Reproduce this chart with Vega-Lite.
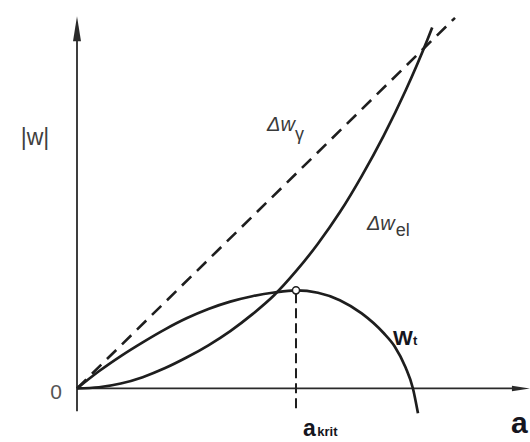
{
  "$schema": "https://vega.github.io/schema/vega-lite/v6.json",
  "width": 530,
  "height": 442,
  "padding": 0,
  "autosize": {"type": "fit", "contains": "padding"},
  "background": "white",
  "config": {"view": {"stroke": null}},
  "datasets": {
    "curves": [
      {"series": "gamma", "a": 0, "w": 0},
      {"series": "gamma", "a": 1.726, "w": 3.778},

      {"series": "el", "a": 0, "w": 0},
      {"series": "el", "a": 0.1, "w": 0.012},
      {"series": "el", "a": 0.2, "w": 0.05},
      {"series": "el", "a": 0.3, "w": 0.115},
      {"series": "el", "a": 0.4, "w": 0.205},
      {"series": "el", "a": 0.5, "w": 0.315},
      {"series": "el", "a": 0.6, "w": 0.44},
      {"series": "el", "a": 0.7, "w": 0.585},
      {"series": "el", "a": 0.8, "w": 0.755},
      {"series": "el", "a": 0.9, "w": 0.95},
      {"series": "el", "a": 1.0, "w": 1.195},
      {"series": "el", "a": 1.1, "w": 1.475},
      {"series": "el", "a": 1.2, "w": 1.795},
      {"series": "el", "a": 1.3, "w": 2.165},
      {"series": "el", "a": 1.4, "w": 2.575},
      {"series": "el", "a": 1.5, "w": 3.035},
      {"series": "el", "a": 1.6, "w": 3.555},
      {"series": "el", "a": 1.622, "w": 3.68},

      {"series": "wt", "a": 0, "w": 0},
      {"series": "wt", "a": 0.1, "w": 0.175},
      {"series": "wt", "a": 0.2, "w": 0.33},
      {"series": "wt", "a": 0.3, "w": 0.47},
      {"series": "wt", "a": 0.4, "w": 0.6},
      {"series": "wt", "a": 0.5, "w": 0.715},
      {"series": "wt", "a": 0.6, "w": 0.81},
      {"series": "wt", "a": 0.7, "w": 0.885},
      {"series": "wt", "a": 0.8, "w": 0.94},
      {"series": "wt", "a": 0.9, "w": 0.978},
      {"series": "wt", "a": 1.0, "w": 1.0},
      {"series": "wt", "a": 1.1, "w": 0.975},
      {"series": "wt", "a": 1.2, "w": 0.9},
      {"series": "wt", "a": 1.3, "w": 0.765},
      {"series": "wt", "a": 1.4, "w": 0.565},
      {"series": "wt", "a": 1.45, "w": 0.43},
      {"series": "wt", "a": 1.5, "w": 0.215},
      {"series": "wt", "a": 1.534, "w": 0},
      {"series": "wt", "a": 1.557, "w": -0.253}
    ],
    "axes": [
      {"axis": "x", "a": 0, "w": 0},
      {"axis": "x", "a": 2.0, "w": 0},
      {"axis": "y", "a": 0, "w": -0.232},
      {"axis": "y", "a": 0, "w": 3.6}
    ],
    "arrowUp": [{"a": 0, "w": 3.666}],
    "arrowRight": [{"a": 2.027, "w": 0}],
    "critical": [
      {"a": 1.0, "w": 0.97},
      {"a": 1.0, "w": -0.232}
    ],
    "peak": [{"a": 1.0, "w": 1.0}],
    "ordinateName": [{"text": "|w|", "a": -0.192, "w": 2.55}],
    "deltaLabels": [
      {"text": "Δw", "a": 0.868, "w": 2.626},
      {"text": "Δw", "a": 1.324, "w": 1.616}
    ],
    "origin": [{"text": "0", "a": -0.096, "w": -0.111}],
    "deltaSubs": [
      {"text": "γ", "a": 0.995, "w": 2.53},
      {"text": "el", "a": 1.455, "w": 1.556}
    ],
    "workLabel": [{"text": "W", "a": 1.443, "w": 0.444}],
    "critLabel": [{"text": "a", "a": 1.032, "w": -0.485}],
    "boldSubs": [
      {"text": "t", "a": 1.534, "w": 0.444},
      {"text": "krit", "a": 1.097, "w": -0.485}
    ],
    "axisName": [{"text": "a", "a": 1.982, "w": -0.455}]
  },
  "encoding": {
    "x": {"field": "a", "type": "quantitative", "scale": {"domain": [-0.3516, 2.0685], "nice": false, "zero": false}, "axis": null},
    "y": {"field": "w", "type": "quantitative", "scale": {"domain": [-0.505, 3.9596], "nice": false, "zero": false}, "axis": null}
  },
  "layer": [
    {
      "data": {"name": "axes"},
      "mark": {"type": "line", "color": "#2a2a2a", "strokeWidth": 1.8},
      "encoding": {"detail": {"field": "axis"}}
    },
    {
      "data": {"name": "arrowUp"},
      "mark": {"type": "point", "shape": "M0,-1L0.32,1L-0.32,1Z", "size": 625, "filled": true, "color": "#2a2a2a", "opacity": 1}
    },
    {
      "data": {"name": "arrowRight"},
      "mark": {"type": "point", "shape": "M1,0L-1,-0.3L-1,0.3Z", "size": 324, "filled": true, "color": "#2a2a2a", "opacity": 1}
    },
    {
      "data": {"name": "curves"},
      "transform": [{"filter": "datum.series === 'gamma'"}],
      "mark": {"type": "line", "color": "#1e1e1e", "strokeWidth": 2.6, "strokeDash": [13, 8]}
    },
    {
      "data": {"name": "curves"},
      "transform": [{"filter": "datum.series !== 'gamma'"}],
      "mark": {"type": "line", "color": "#1e1e1e", "strokeWidth": 2.7, "interpolate": "monotone"},
      "encoding": {"detail": {"field": "series"}}
    },
    {
      "data": {"name": "critical"},
      "mark": {"type": "line", "color": "#1e1e1e", "strokeWidth": 2, "strokeDash": [10, 5]}
    },
    {
      "data": {"name": "peak"},
      "mark": {"type": "point", "shape": "circle", "size": 50, "filled": true, "fill": "white", "stroke": "#1e1e1e", "strokeWidth": 1.5, "opacity": 1}
    },
    {
      "data": {"name": "ordinateName"},
      "mark": {"type": "text", "align": "center", "baseline": "middle", "font": "Liberation Sans", "fontSize": 23, "color": "#404040"},
      "encoding": {"text": {"field": "text"}}
    },
    {
      "data": {"name": "deltaLabels"},
      "mark": {"type": "text", "align": "left", "baseline": "alphabetic", "font": "Liberation Sans", "fontStyle": "italic", "fontSize": 20, "color": "#3a3a3a"},
      "encoding": {"text": {"field": "text"}}
    },
    {
      "data": {"name": "origin"},
      "mark": {"type": "text", "align": "center", "baseline": "alphabetic", "font": "Liberation Sans", "fontSize": 21, "color": "#555555"},
      "encoding": {"text": {"field": "text"}}
    },
    {
      "data": {"name": "deltaSubs"},
      "mark": {"type": "text", "align": "left", "baseline": "alphabetic", "font": "Liberation Sans", "fontSize": 18, "color": "#3a3a3a"},
      "encoding": {"text": {"field": "text"}}
    },
    {
      "data": {"name": "workLabel"},
      "mark": {"type": "text", "align": "left", "baseline": "alphabetic", "font": "Liberation Sans", "fontWeight": "bold", "fontSize": 21, "color": "#151520"},
      "encoding": {"text": {"field": "text"}}
    },
    {
      "data": {"name": "critLabel"},
      "mark": {"type": "text", "align": "left", "baseline": "alphabetic", "font": "Liberation Sans", "fontWeight": "bold", "fontSize": 23, "color": "#151520"},
      "encoding": {"text": {"field": "text"}}
    },
    {
      "data": {"name": "boldSubs"},
      "mark": {"type": "text", "align": "left", "baseline": "alphabetic", "font": "Liberation Sans", "fontWeight": "bold", "fontSize": 13, "color": "#151520"},
      "encoding": {"text": {"field": "text"}}
    },
    {
      "data": {"name": "axisName"},
      "mark": {"type": "text", "align": "left", "baseline": "alphabetic", "font": "Liberation Sans", "fontWeight": "bold", "fontSize": 30, "color": "#151520"},
      "encoding": {"text": {"field": "text"}}
    }
  ]
}
